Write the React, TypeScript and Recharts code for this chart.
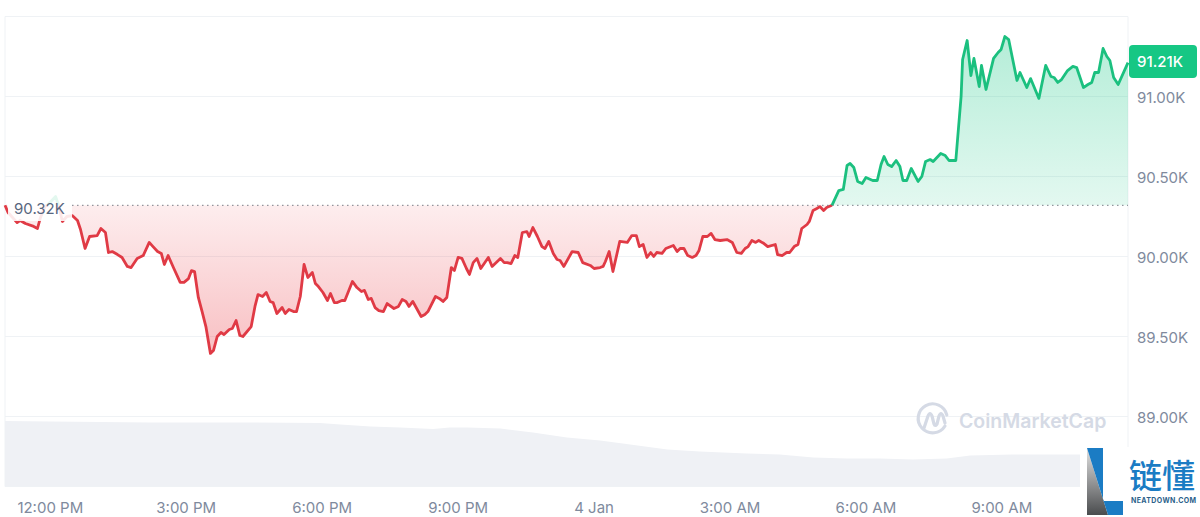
import { Area, CartesianGrid, ComposedChart, ReferenceLine, XAxis, YAxis } from "recharts";

// minutes after 12:00 PM
const times = [
  -60, -56, -50, -44, -40, -33, -22, -17, -13, -7,
  -4, 7, 11, 16, 22, 29, 36, 40, 46, 52,
  62, 67, 73, 77, 82, 89, 95, 102, 107, 115,
  123, 131, 136, 142, 147, 151, 156, 163, 172, 177,
  183, 187, 191, 196, 201, 206, 212, 216, 221, 226,
  230, 237, 241, 246, 251, 255, 266, 271, 275, 281,
  286, 291, 295, 300, 307, 311, 316, 322, 326, 331,
  336, 341, 347, 351, 355, 361, 367, 371, 376, 380,
  386, 390, 400, 406, 412, 416, 421, 425, 430, 435,
  441, 446, 455, 461, 466, 471, 475, 480, 491, 496,
  500, 510, 515, 520, 525, 531, 535, 540, 545, 551,
  555, 560, 565, 570, 580, 585, 596, 601, 605, 610,
  615, 619, 625, 631, 634, 639, 645, 651, 655, 660,
  666, 671, 675, 680, 691, 699, 705, 715, 720, 728,
  732, 735, 740, 745, 754, 764, 770, 776, 780, 785,
  790, 795, 799, 803, 810, 815, 825, 830, 834, 839,
  844, 850, 855, 859, 864, 870, 875, 880, 887, 896,
  903, 909, 915, 920, 924, 929, 934, 938, 945, 950,
  960, 963, 969, 975, 979, 985, 990, 995, 1002, 1005,
  1010, 1015, 1019, 1024, 1028, 1035, 1044, 1050, 1055, 1059,
  1064, 1069, 1075, 1080, 1089, 1095, 1100, 1104, 1109, 1114,
  1120, 1125, 1129, 1134, 1140, 1149, 1154, 1159, 1165, 1169,
  1179, 1185, 1190, 1199, 1206, 1208, 1214, 1219, 1223, 1230,
  1233, 1239, 1249, 1255, 1259, 1264, 1269, 1273, 1280, 1284,
  1293, 1298, 1309, 1318, 1325, 1329, 1334, 1339, 1347, 1354,
  1359, 1368, 1374, 1379, 1383, 1388, 1394, 1399, 1403, 1408,
  1414, 1427,
];

const prices = [
  90320, 90275, 90244, 90212, 90225, 90206, 90188, 90175, 90244, 90312,
  90320, 90375, 90320, 90219, 90250, 90256, 90225, 90169, 90050, 90125,
  90131, 90175, 90150, 90025, 90031, 90012, 89994, 89938, 89931, 89988,
  90006, 90088, 90062, 90031, 90019, 89950, 90006, 89931, 89838, 89838,
  89862, 89912, 89906, 89744, 89656, 89562, 89394, 89412, 89500, 89525,
  89512, 89544, 89550, 89600, 89506, 89500, 89562, 89688, 89762, 89750,
  89775, 89719, 89712, 89644, 89681, 89644, 89669, 89656, 89656, 89750,
  89950, 89869, 89900, 89831, 89812, 89775, 89725, 89769, 89712, 89712,
  89725, 89725, 89844, 89806, 89781, 89788, 89731, 89738, 89681, 89662,
  89656, 89706, 89675, 89688, 89731, 89719, 89688, 89719, 89625, 89638,
  89656, 89750, 89738, 89719, 89744, 89931, 89912, 89994, 89988, 89925,
  89888, 89962, 89988, 89925, 89994, 89938, 89988, 89962, 89962, 89956,
  90006, 89994, 90150, 90156, 90125, 90181, 90125, 90062, 90050, 90094,
  90019, 89981, 89975, 89938, 90031, 90025, 89962, 89944, 89925, 89931,
  89938, 89969, 90031, 89906, 90094, 90088, 90131, 90131, 90062, 90075,
  89994, 90025, 90000, 90025, 90019, 90050, 90069, 90031, 90050, 90050,
  90006, 89994, 90006, 90038, 90125, 90125, 90144, 90106, 90100, 90106,
  90088, 90025, 90019, 90050, 90062, 90100, 90088, 90100, 90081, 90062,
  90075, 90012, 90006, 90025, 90025, 90062, 90075, 90175, 90200, 90219,
  90288, 90300, 90312, 90288, 90306, 90320, 90412, 90419, 90569, 90581,
  90556, 90469, 90456, 90494, 90475, 90475, 90575, 90625, 90575, 90562,
  90600, 90562, 90475, 90475, 90550, 90469, 90500, 90594, 90606, 90594,
  90644, 90631, 90600, 90600, 91000, 91231, 91350, 91131, 91238, 91062,
  91194, 91044, 91238, 91275, 91294, 91375, 91356, 91262, 91100, 91150,
  91056, 91112, 90988, 91194, 91125, 91119, 91088, 91106, 91162, 91188,
  91181, 91056, 91075, 91088, 91150, 91150, 91300, 91250, 91225, 91119,
  91075, 91212,
];

const volumeTimes = [
  -60, 0, 66, 132, 199, 265, 357, 384, 424, 463, 507, 529, 552, 596, 639, 684,
  728, 758, 817, 860, 922, 966, 1010, 1055, 1098, 1142, 1187, 1218, 1274, 1363, 1427,
];
const volumes = [
  65.5, 65, 64.5, 64, 64, 64, 63.5, 62, 60, 59, 57.5, 59, 59, 58, 54, 49,
  46, 43, 37, 35, 33, 32, 29, 28, 28, 27, 28, 31, 32, 32, 32,
];

const baseline = 90320;
const timeTicks = [0, 180, 360, 540, 720, 900, 1080, 1260];
const timeLabels = ["12:00 PM", "3:00 PM", "6:00 PM", "9:00 PM", "4 Jan", "3:00 AM", "6:00 AM", "9:00 AM"];
const priceTicks = [89000, 89500, 90000, 90500, 91000, 91500];

const rows = times.map((time, i) => ({
  time,
  below: prices[i] <= baseline ? prices[i] : null,
  above: prices[i] >= baseline ? prices[i] : null,
}));
const volumeRows = volumeTimes.map((time, i) => ({ time, volume: volumes[i] }));

const formatK = (v: number) => (v / 1000).toFixed(2) + "K";
const lastPrice = prices[prices.length - 1];

const font = "Inter, sans-serif";
const tickStyle = { fill: "#808a9d", fontSize: 15, fontFamily: font };

export default function App() {
  return (
    <div style={{ position: "absolute", left: 0, top: 0, width: 1200, height: 517, background: "#fff", overflow: "hidden" }}>
      <ComposedChart
        width={1200}
        height={517}
        data={rows}
        margin={{ top: 16.5, right: 0, bottom: 0, left: 5 }}
      >
        <defs>
          <linearGradient id="redFill" x1="0" y1="0" x2="0" y2="1">
            <stop offset="0%" stopColor="#ea3943" stopOpacity={0.09} />
            <stop offset="100%" stopColor="#ea3943" stopOpacity={0.32} />
          </linearGradient>
          <linearGradient id="greenFill" x1="0" y1="0" x2="0" y2="1">
            <stop offset="0%" stopColor="#16c784" stopOpacity={0.32} />
            <stop offset="100%" stopColor="#16c784" stopOpacity={0.12} />
          </linearGradient>
        </defs>
        <CartesianGrid
          yAxisId="price"
          stroke="#eff2f5"
          strokeWidth={1}
          verticalValues={[times[0], times[times.length - 1]]}
        />
        <XAxis
          dataKey="time"
          type="number"
          domain={[times[0], times[times.length - 1]]}
          ticks={timeTicks}
          tickFormatter={(v: number) => timeLabels[timeTicks.indexOf(v)]}
          tick={tickStyle}
          tickLine={false}
          axisLine={false}
          tickSize={0}
          tickMargin={16}
          height={30.5}
          interval={0}
        />
        <YAxis
          yAxisId="price"
          orientation="right"
          domain={[88562.5, 91500]}
          ticks={priceTicks}
          tickFormatter={(v: number) => (v === 91500 ? "" : formatK(v))}
          tick={{ ...tickStyle, dy: 1 }}
          tickLine={false}
          axisLine={false}
          tickSize={0}
          tickMargin={9}
          width={72}
          interval={0}
        />
        <YAxis yAxisId="volume" hide domain={[0, 470]} />
        <Area
          yAxisId="volume"
          data={volumeRows}
          dataKey="volume"
          type="linear"
          stroke="none"
          fill="#eff1f5"
          fillOpacity={1}
          dot={false}
          activeDot={false}
          isAnimationActive={false}
        />
        <Area
          yAxisId="price"
          dataKey="below"
          type="linear"
          baseValue={baseline}
          stroke="#e03a45"
          strokeWidth={2.8}
          strokeLinejoin="round"
          fill="url(#redFill)"
          fillOpacity={1}
          dot={false}
          activeDot={false}
          isAnimationActive={false}
        />
        <Area
          yAxisId="price"
          dataKey="above"
          type="linear"
          baseValue={baseline}
          stroke="#1bc07f"
          strokeWidth={2.8}
          strokeLinejoin="round"
          fill="url(#greenFill)"
          fillOpacity={1}
          dot={false}
          activeDot={false}
          isAnimationActive={false}
        />
        <ReferenceLine
          yAxisId="price"
          segment={[
            { x: 29, y: baseline },
            { x: times[times.length - 1], y: baseline },
          ]}
          stroke="#777c86"
          strokeWidth={1.2}
          strokeDasharray="1.2 3.8"
        />
      </ComposedChart>

      {/* labels, watermark and the pasted logo sit on top of the chart */}
      <svg width={1200} height={517} style={{ position: "absolute", left: 0, top: 0 }}>
        <defs>
          <linearGradient id="logoGrey" x1="0" y1="0" x2="0" y2="1">
            <stop offset="0%" stopColor="#e2e2e2" />
            <stop offset="100%" stopColor="#4a4c4e" />
          </linearGradient>
        </defs>

        <rect x={8} y={192} width={64} height={29} fill="#fff" fillOpacity={0.88} />
        <text x={14} y={214} fontFamily={font} fontSize={15} fill="#58667e">
          {formatK(baseline)}
        </text>

        <rect x={1129} y={45} width={68} height={33} rx={4} fill="#16c784" />
        <text x={1137} y={67} fontFamily={font} fontSize={15} fontWeight={500} fill="#fff">
          {formatK(lastPrice)}
        </text>

        <g fill="none" stroke="#d5dae5" strokeWidth={3.2} strokeLinecap="round" strokeLinejoin="round">
          <path d="M945 426 A14.5 14.5 0 1 1 946.8 415" />
          <path d="M924 428 L928 416 Q930 411 932 416 L934 424 Q935 427 937 424 L939 416 Q941 411 943 416 L945 423" />
        </g>
        <text x={959} y={428} fontFamily={font} fontSize={19.5} fontWeight={600} fill="#d5dae5">
          CoinMarketCap
        </text>

        <rect x={1080} y={447} width={120} height={70} fill="#fff" />
        <polygon points="1087,448 1108,515 1087,515" fill="url(#logoGrey)" />
        <polygon points="1087,448 1103,448 1103,501 1123,501 1123,515 1108,515" fill="#1b7cc4" />
        <text x={1129} y={488} fontFamily="'Noto Sans CJK SC'" fontSize={33} fontWeight={500} fill="#1b7cc4">
          链懂
        </text>
        <text x={1131} y={503} fontFamily={font} fontSize={7} fontWeight={700} textLength={65} fill="#2b5f8a">
          NEATDOWN.COM
        </text>
      </svg>
    </div>
  );
}
